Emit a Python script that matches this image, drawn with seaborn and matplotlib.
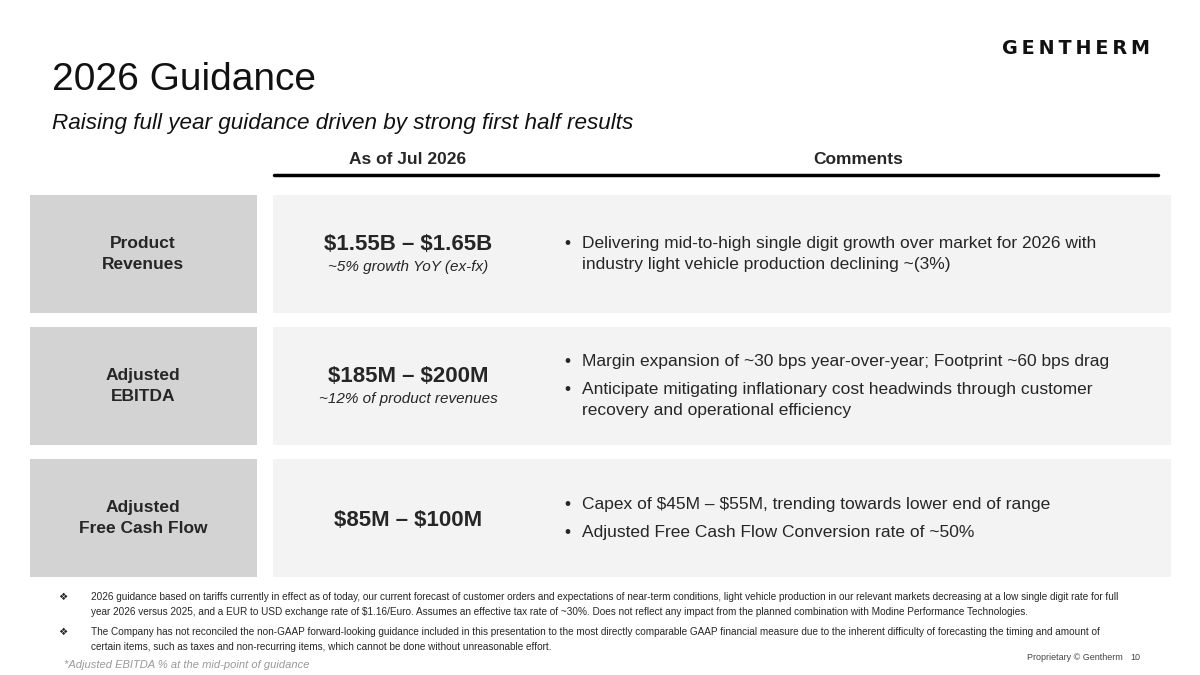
import matplotlib
matplotlib.use("Agg")
import matplotlib.pyplot as plt
import seaborn as sns
from matplotlib.patches import Rectangle

sns.set_theme(style="white")
plt.rcParams['font.family'] = ['Liberation Sans', 'DejaVu Sans']
plt.rcParams['text.parse_math'] = False

title = "2026 Guidance"
subtitle = "Raising full year guidance driven by strong first half results"
col_headers = ["As of Jul 2026", "Comments"]
row_labels = ["Product\nRevenues", "Adjusted\nEBITDA", "Adjusted\nFree Cash Flow"]
ranges = ["$1.55B – $1.65B", "$185M – $200M", "$85M – $100M"]
range_notes = ["~5% growth YoY (ex-fx)", "~12% of product revenues", ""]
comments = [
    [["Delivering mid-to-high single digit growth over market for 2026 with",
      "industry light vehicle production declining ~(3%)"]],
    [["Margin expansion of ~30 bps year-over-year; Footprint ~60 bps drag"],
     ["Anticipate mitigating inflationary cost headwinds through customer",
      "recovery and operational efficiency"]],
    [["Capex of $45M – $55M, trending towards lower end of range"],
     ["Adjusted Free Cash Flow Conversion rate of ~50%"]],
]
footnotes = [
    ["2026 guidance based on tariffs currently in effect as of today, our current forecast of customer orders and expectations of near-term conditions, light vehicle production in our relevant markets decreasing at a low single digit rate for full",
     "year 2026 versus 2025, and a EUR to USD exchange rate of $1.16/Euro. Assumes an effective tax rate of ~30%. Does not reflect any impact from the planned combination with Modine Performance Technologies."],
    ["The Company has not reconciled the non-GAAP forward-looking guidance included in this presentation to the most directly comparable GAAP financial measure due to the inherent difficulty of forecasting the timing and amount of",
     "certain items, such as taxes and non-recurring items, which cannot be done without unreasonable effort."],
]

fig = plt.figure(figsize=(12, 6.75), dpi=100)
ax = fig.add_axes([0, 0, 1, 1])
ax.set_xlim(0, 1200)
ax.set_ylim(675, 0)
ax.axis('off')

ax.text(1150, 48, "\u2009".join("GENTHERM"), fontsize=13.8, fontweight='bold',
        color='#111111', va='center', ha='right', family=['DejaVu Sans'])
ax.text(52, 80, title, fontsize=28, color='#111111', va='center')
ax.text(52, 124, subtitle, fontsize=16.2, style='italic', color='#111111', va='center')
ax.text(408, 159, col_headers[0], fontsize=12.5, fontweight='bold', va='center', ha='center')
ax.text(858, 159, col_headers[1], fontsize=12.5, fontweight='bold', va='center', ha='center')
ax.plot([274, 1158], [175, 175], color='black', lw=2.5)

tops = [195, 327, 459]
h = 118
for i, top in enumerate(tops):
    ax.add_patch(Rectangle((30, top), 227, h, color='#d3d3d3', lw=0))
    ax.add_patch(Rectangle((273, top), 898, h, color='#f3f3f3', lw=0))
    cy = top + h / 2
    ax.text(143, cy, row_labels[i], fontsize=12.5, fontweight='bold',
            ha='center', va='center', linespacing=1.45)
    if range_notes[i]:
        ax.text(408, cy - 9, ranges[i], fontsize=16, fontweight='bold', ha='center', va='center')
        ax.text(408, cy + 13, range_notes[i], fontsize=11, style='italic', ha='center', va='center')
    else:
        ax.text(408, cy + 2, ranges[i], fontsize=16, fontweight='bold', ha='center', va='center')
    nlines = sum(len(b) for b in comments[i])
    gaps = len(comments[i]) - 1
    total = nlines * 21 + gaps * 7
    y = cy - total / 2 + 10.5
    for b in comments[i]:
        ax.text(564, y, "•", fontsize=12.5, va='center')
        for line in b:
            ax.text(582, y, line, fontsize=12.5, va='center')
            y += 21
        y += 7

fy = 597
for fn in footnotes:
    ax.text(58, fy, "❖", fontsize=7.5, va='center', family='DejaVu Sans')
    for line in fn:
        ax.text(91, fy, line, fontsize=7.2, va='center')
        fy += 15
    fy += 5
ax.text(1027, 657, "Proprietary © Gentherm", fontsize=6.5, color='#444444', va='center')
ax.text(1130, 657, "10", fontsize=6.5, color='#444444', va='center')
ax.text(64, 665, "*Adjusted EBITDA % at the mid-point of guidance", fontsize=8, style='italic',
        color='#999999', va='center')

fig.savefig("out.png", dpi=100, facecolor='white')
